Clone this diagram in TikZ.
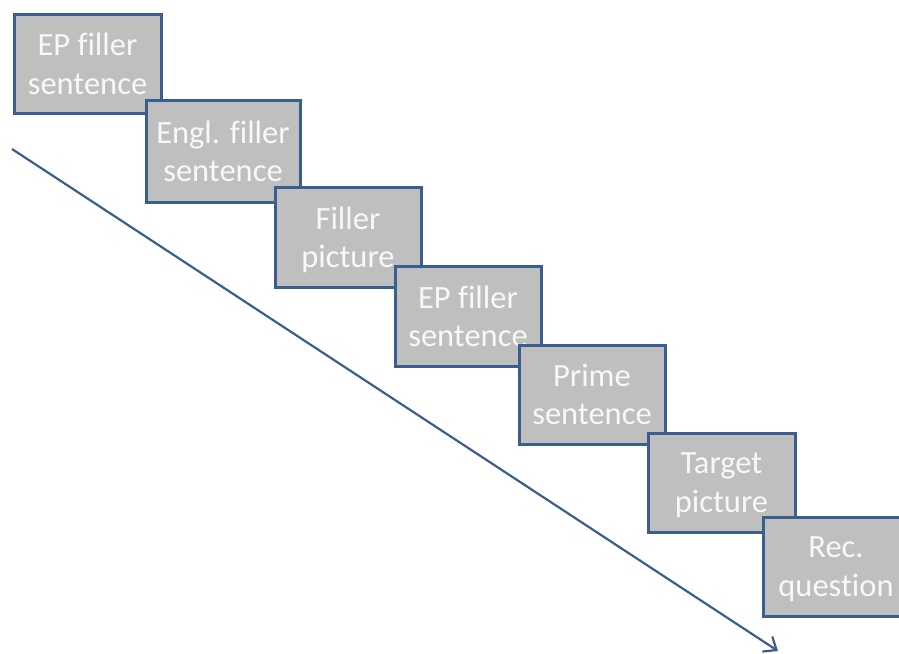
\documentclass[tikz,border=0pt]{standalone}
\usepackage{fontspec}
\setmainfont{Carlito}[Ligatures=NoCommon]
\usetikzlibrary{arrows.meta}
\definecolor{boxfill}{HTML}{BFBFBF}
\definecolor{boxline}{HTML}{3A5F8E}
\definecolor{arrowline}{HTML}{3B5E8C}
\definecolor{boxtext}{HTML}{F8F8F8}
\tikzset{
  stepbox/.style={draw=boxline, line width=3pt, fill=boxfill, text=boxtext,
    align=center, inner sep=0pt, text depth=0pt, font=\fontsize{32.5}{38.5}\selectfont},
}
\begin{document}
\begin{tikzpicture}[x=1pt,y=-1pt]
\useasboundingbox (0,0) rectangle (899,653);
\clip (0,0) rectangle (899,653);
\node[stepbox, minimum width=147pt, minimum height=99pt] (b1) at (87.5,63.5) {EP filler\\sentence};
\node[stepbox, minimum width=154pt, minimum height=102pt] (b2) at (223,151) {Engl. filler\\sentence};
\node[stepbox, minimum width=146pt, minimum height=100pt] (b3) at (348,237) {Filler\\picture};
\node[stepbox, minimum width=146pt, minimum height=100pt] (b4) at (468,316) {EP filler\\sentence};
\node[stepbox, minimum width=146pt, minimum height=99pt] (b5) at (592,394.5) {Prime\\sentence};
\node[stepbox, minimum width=147pt, minimum height=99pt] (b6) at (721.5,482.5) {Target\\picture};
\node[stepbox, minimum width=146pt, minimum height=99pt] (b7) at (836,566.5) {Rec.\\question};
\coordinate (s) at (12,149);
\coordinate (e) at (778,651);
\draw[arrowline, line width=2.2pt, -{Straight Barb[length=11pt,width=18pt]}] (s) -- (e);
\end{tikzpicture}
\end{document}
